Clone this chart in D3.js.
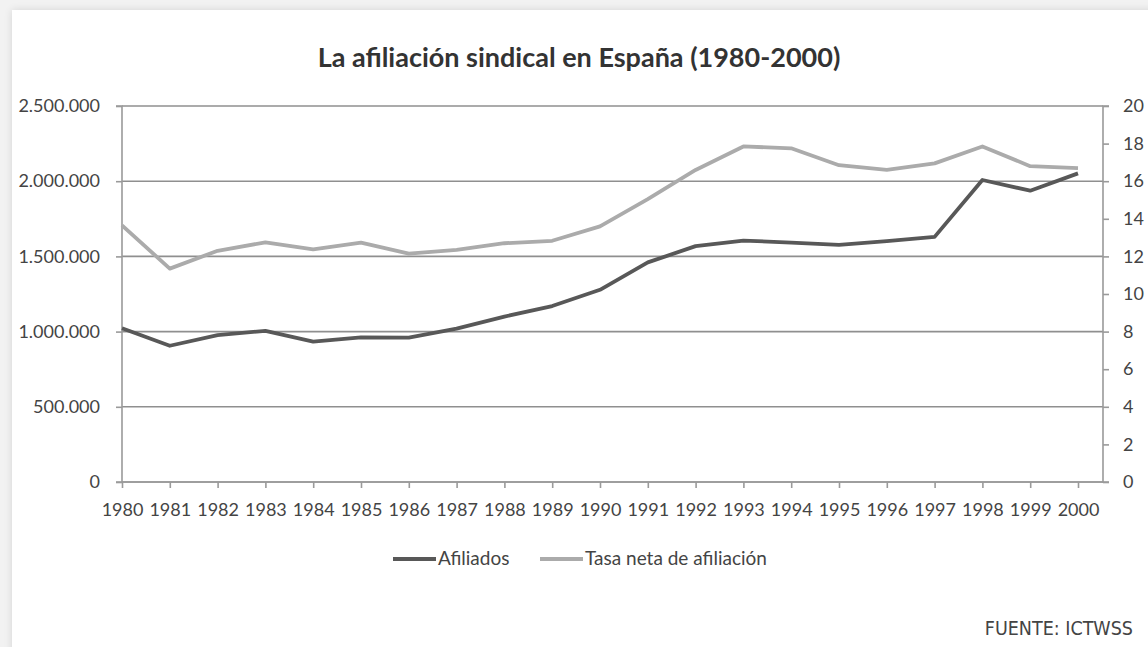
<!DOCTYPE html>
<html>
<head>
<meta charset="utf-8">
<script src="https://cdn.jsdelivr.net/npm/d3@7"></script>
<style>
  html, body { margin: 0; padding: 0; background: #f2f2f2; }
  #card {
    position: absolute; left: 12px; top: 10px; width: 1150px; height: 650px;
    background: #fff; box-shadow: 0 0 8px rgba(0,0,0,0.12);
  }
  svg { position: absolute; left: 0; top: 0; }
  .tick text { font-family: Lato, "Open Sans", sans-serif; font-size: 18px; fill: #444; }
</style>
</head>
<body>
<div id="card"></div>
<svg id="chart" width="1148" height="647"></svg>
<script>
"use strict";

// data
const years = ["1980","1981","1982","1983","1984","1985","1986","1987","1988","1989","1990",
               "1991","1992","1993","1994","1995","1996","1997","1998","1999","2000"];
const afiliados = [1022000, 906000, 977000, 1005000, 933000, 962000, 960000, 1020000, 1100000, 1170000, 1278000,
                   1460000, 1568000, 1605000, 1592000, 1576000, 1602000, 1630000, 2008000, 1937000, 2052000];
const tasa = [13.65, 11.35, 12.3, 12.75, 12.37, 12.73, 12.15, 12.35, 12.7, 12.83, 13.6,
              15.05, 16.6, 17.85, 17.75, 16.85, 16.6, 16.95, 17.85, 16.8, 16.7];
const leftTicks = [0, 500000, 1000000, 1500000, 2000000, 2500000];
const rightTicks = [0, 2, 4, 6, 8, 10, 12, 14, 16, 18, 20];

const svg = d3.select("#chart");

let plotLeft = 122, plotRight = 1103, plotTop = 106, plotBottom = 482;

let x = d3.scalePoint().domain(years).range([plotLeft, 1078]);
let yL = d3.scaleLinear().domain([0, 2500000]).range([plotBottom, plotTop]);
let yR = d3.scaleLinear().domain([0, 20]).range([plotBottom, plotTop]);

const fmt = d => d3.format(",")(d).replace(/,/g, ".");

// title
svg.append("text")
  .attr("x", 579).attr("y", 67)
  .attr("text-anchor", "middle")
  .style("font-family", "Lato, 'Open Sans', sans-serif")
  .style("font-size", "27px").style("font-weight", "bold")
  .style("fill", "#333")
  .text("La afiliación sindical en España (1980-2000)");

// horizontal gridlines
svg.append("g")
  .selectAll("line")
  .data(leftTicks)
  .enter().append("line")
    .attr("x1", plotLeft).attr("x2", plotRight)
    .attr("y1", d => yL(d)).attr("y2", d => yL(d))
    .attr("stroke", "#8f8f8f").attr("stroke-width", 1.6);

// left axis
let gL = svg.append("g")
  .attr("transform", `translate(${plotLeft},0)`)
  .call(d3.axisLeft(yL).tickValues(leftTicks).tickFormat(fmt).tickSize(6).tickPadding(16));
gL.selectAll("line, path").attr("stroke", "#9a9a9a").attr("stroke-width", 1.6);
gL.select(".domain").attr("d", `M-6,${plotTop}H0V${plotBottom}H-6`);

// right axis
let gR = svg.append("g")
  .attr("transform", `translate(${plotRight},0)`)
  .call(d3.axisRight(yR).tickValues(rightTicks).tickSize(6).tickPadding(14));
gR.selectAll("line, path").attr("stroke", "#9a9a9a").attr("stroke-width", 1.6);
gR.select(".domain").attr("d", `M6,${plotTop}H0V${plotBottom}H6`);

// bottom axis
let gX = svg.append("g")
  .attr("transform", `translate(0,${plotBottom})`)
  .call(d3.axisBottom(x).tickSize(6).tickPadding(15));
gX.selectAll("line").attr("stroke", "#9a9a9a").attr("stroke-width", 1.6);
gX.select(".domain").attr("d", `M${plotLeft},0H${plotRight}`).attr("stroke", "#9a9a9a").attr("stroke-width", 1.6);

// lines
svg.append("path")
  .datum(tasa)
  .attr("fill", "none").attr("stroke", "#ababab").attr("stroke-width", 3.8)
  .attr("stroke-linejoin", "round")
  .attr("d", d3.line().x((d, i) => x(years[i])).y(d => yR(d)));

svg.append("path")
  .datum(afiliados)
  .attr("fill", "none").attr("stroke", "#585858").attr("stroke-width", 3.8)
  .attr("stroke-linejoin", "round")
  .attr("d", d3.line().x((d, i) => x(years[i])).y(d => yL(d)));

// legend
const legend = [
  {name: "Afiliados", color: "#585858", x: 393},
  {name: "Tasa neta de afiliación", color: "#ababab", x: 540}
];
let lg = svg.append("g").selectAll("g").data(legend).enter().append("g");
lg.append("line")
  .attr("x1", d => d.x).attr("x2", d => d.x + 43)
  .attr("y1", 559).attr("y2", 559)
  .attr("stroke", d => d.color).attr("stroke-width", 3.8);
lg.append("text")
  .attr("x", d => d.x + 45).attr("y", 565)
  .style("font-family", "Lato, 'Open Sans', sans-serif")
  .style("font-size", "19px").style("fill", "#444")
  .text(d => d.name);

// source
svg.append("text")
  .attr("x", 1133).attr("y", 635)
  .attr("text-anchor", "end")
  .style("font-family", "'DejaVu Sans Condensed', 'Liberation Sans Narrow', sans-serif")
  .style("font-size", "19.5px").style("fill", "#444")
  .text("FUENTE: ICTWSS");
</script>
</body>
</html>
